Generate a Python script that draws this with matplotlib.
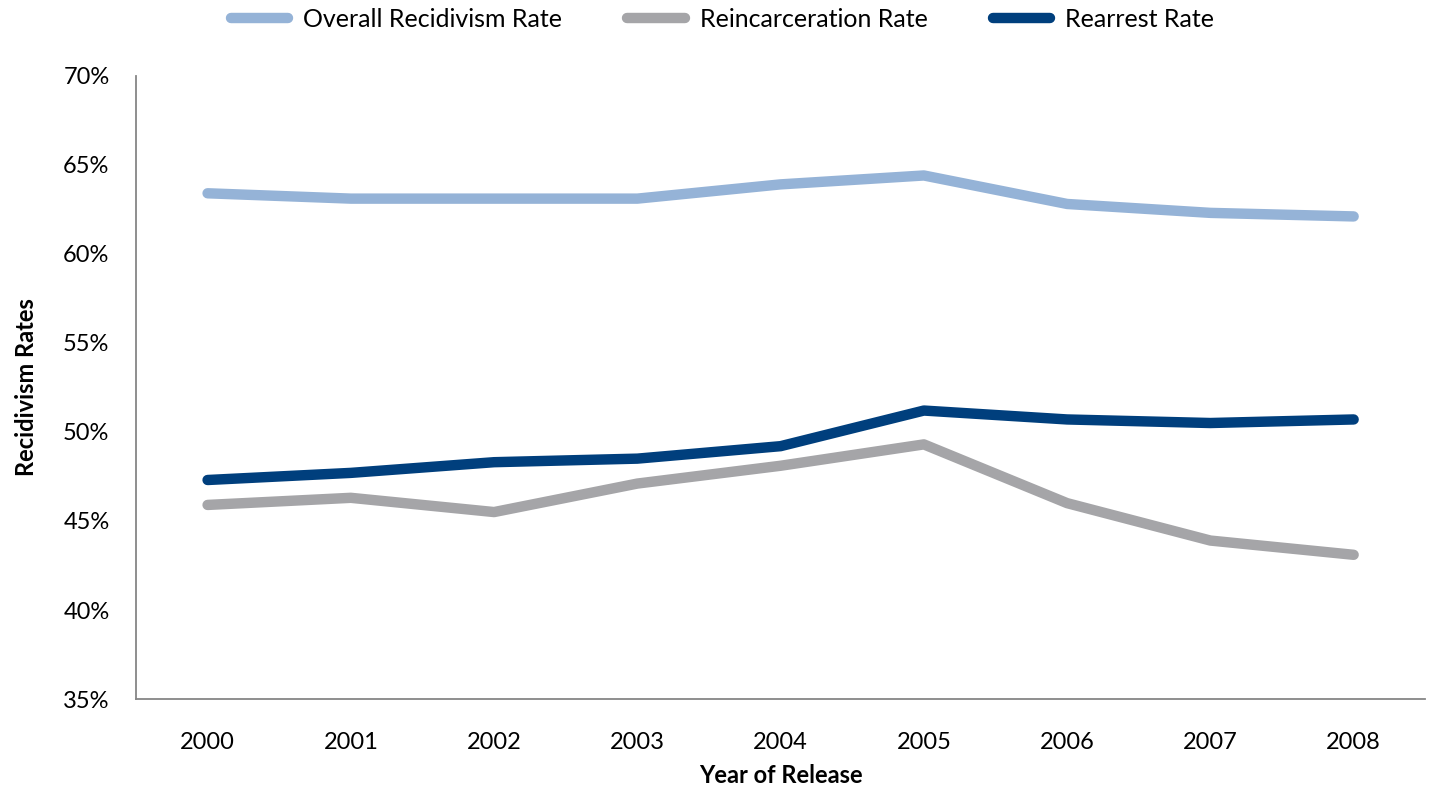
import matplotlib
matplotlib.use("Agg")
import matplotlib.pyplot as plt
import matplotlib.ticker as mtick

plt.rcParams['font.family'] = ['Lato', 'DejaVu Sans']

years = ['2000', '2001', '2002', '2003', '2004', '2005', '2006', '2007', '2008']
overall = [63.4, 63.1, 63.1, 63.1, 63.9, 64.4, 62.8, 62.3, 62.1]
reincarceration = [45.9, 46.3, 45.5, 47.1, 48.1, 49.3, 46.0, 43.9, 43.1]
rearrest = [47.3, 47.7, 48.3, 48.5, 49.2, 51.2, 50.7, 50.5, 50.7]

fig = plt.figure(figsize=(14.31, 7.89), dpi=100)
ax = fig.add_axes([0.095, 0.114, 0.901, 0.790])

x = range(len(years))
ax.plot(x, overall, color='#95b3d7', lw=7.5, solid_capstyle='round', label='Overall Recidivism Rate')
ax.plot(x, reincarceration, color='#a5a5a8', lw=7.5, solid_capstyle='round', label='Reincarceration Rate')
ax.plot(x, rearrest, color='#003f7d', lw=7.5, solid_capstyle='round', label='Rearrest Rate')

ax.set_xlim(-0.5, len(years) - 0.5)
ax.set_ylim(35, 70)
ax.set_xticks(list(x))
ax.set_xticklabels(years)
ax.yaxis.set_major_locator(mtick.MultipleLocator(5))
ax.yaxis.set_major_formatter(mtick.FormatStrFormatter('%d%%'))
ax.tick_params(length=0, labelsize=17)
ax.tick_params(axis='x', pad=24)
ax.tick_params(axis='y', pad=19)

for s in ['top', 'right']:
    ax.spines[s].set_visible(False)
for s in ['left', 'bottom']:
    ax.spines[s].set_color('#868686')
    ax.spines[s].set_linewidth(1.3)

ax.set_xlabel('Year of Release', fontsize=17, fontweight='bold', labelpad=8)
ax.set_ylabel('Recidivism Rates', fontsize=17, fontweight='bold', labelpad=18)

ax.legend(loc='center', bbox_to_anchor=(0.455, 1.091), ncol=3, frameon=False,
          fontsize=18, handlelength=2.3, columnspacing=2.6, handletextpad=0.6)

fig.savefig('out.png', dpi=100)
